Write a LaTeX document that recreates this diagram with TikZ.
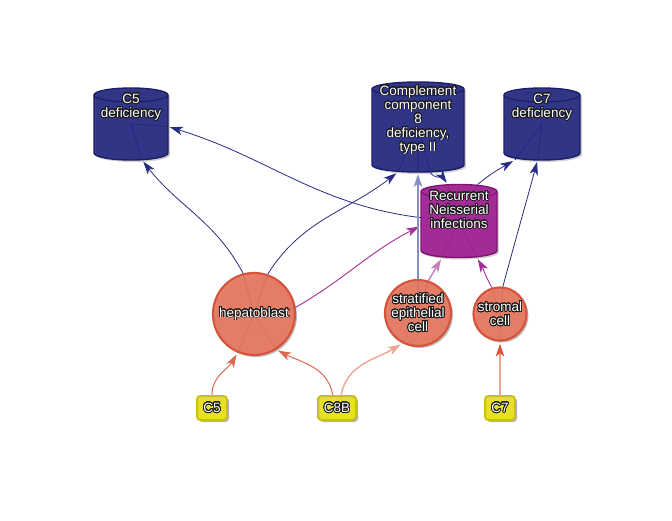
\documentclass[tikz,border=0pt]{standalone}
\usepackage{fontspec}
\setmainfont{Liberation Sans}
\usepackage{contour}
\contourlength{0.85pt}
\contournumber{24}
\usetikzlibrary{arrows.meta,shadows}

\definecolor{navyF}{RGB}{36,40,128}
\definecolor{navyD}{RGB}{26,29,104}
\definecolor{magF}{RGB}{160,30,145}
\definecolor{magD}{RGB}{125,20,112}
\definecolor{circF}{RGB}{232,118,95}
\definecolor{circD}{RGB}{212,85,60}
\definecolor{yelF}{RGB}{230,224,40}
\definecolor{yelD}{RGB}{200,192,24}
\definecolor{eNavy}{RGB}{40,44,130}
\definecolor{eMag}{RGB}{165,45,150}
\definecolor{eLtMag}{RGB}{198,125,192}
\definecolor{eOrange}{RGB}{222,104,78}
\definecolor{eSalmon}{RGB}{238,165,146}
\definecolor{eLav}{RGB}{136,141,196}
\definecolor{outl}{RGB}{25,25,25}

\pgfdeclarelayer{under}
\pgfsetlayers{under,main}

\newcommand\ol[1]{\contour{outl}{#1}}

% body of a cylinder drawn over the rectangle node #1, width #2, offset (#3,#4)
\newcommand\cylpath[4]{([shift={(#3,#4-7)}]#1.north west) -- ([shift={(#3,#4+7)}]#1.south west)
  arc[start angle=180,end angle=360,x radius=#2/2,y radius=7]
  -- ([shift={(#3,#4-7)}]#1.north east)
  arc[start angle=0,end angle=180,x radius=#2/2,y radius=7] -- cycle}

% cylinder node: name, x, y, width, height, colour prefix
\newcommand\cyl[6]{%
  \node[minimum width=#4, minimum height=#5, inner sep=0, outer sep=0] (#1) at (#2,#3) {};
  \path[fill=black, opacity=0.18] \cylpath{#1}{#4}{2}{-2};
  \path[fill=#6F, fill opacity=0.92, draw=#6D, line width=1.4pt] \cylpath{#1}{#4}{0}{0};
  \draw[#6D, line width=1.1pt] ([yshift=-7]#1.north west)
    arc[start angle=180,end angle=360,x radius=#4/2,y radius=7];
}

% connector: from, to, out anchor, out angle, in anchor, in angle, style
\newcommand\link[7]{%
  \begin{pgfonlayer}{under}
    \draw[#7] (#1.center) -- (#1.#3) (#2.center) -- (#2.#5);
  \end{pgfonlayer}
  \draw[#7, tip] (#1.#3) to[out=#4, in=#6] (#2.#5);
}

\begin{document}
\begin{tikzpicture}[x=1pt, y=1pt,
  font=\fontsize{13.5}{14}\selectfont,
  lbl/.style={text=white, align=center, inner sep=0},
  tip/.style={-{Stealth[length=13pt,width=8.5pt,inset=3.5pt]}, shorten >=2pt},
  navyedge/.style={eNavy, line width=0.8pt},
  magedge/.style={eMag, line width=0.9pt},
  ltmagedge/.style={eLtMag, line width=1.4pt},
  lavedge/.style={eLav, line width=1.8pt},
  orangeedge/.style={eOrange, line width=1pt},
  salmonedge/.style={eSalmon, line width=1.4pt},
  cell/.style={circle, fill=circF, draw=circD, line width=2.2pt, fill opacity=0.9,
    text opacity=1, inner sep=0, lbl,
    drop shadow={shadow xshift=2pt, shadow yshift=-2pt, opacity=0.25, fill=black}},
  gene/.style={rectangle, rounded corners=3.5pt, fill=yelF, draw=yelD, line width=2pt,
    minimum height=24, inner sep=0, lbl,
    drop shadow={shadow xshift=2pt, shadow yshift=-2pt, opacity=0.3, fill=black}}
]
\useasboundingbox (0,0) rectangle (672,520);

% disease cylinders
\cyl{c5def}{131}{396}{74}{72}{navy}
\cyl{c8def}{418}{393}{92}{90}{navy}
\cyl{c7def}{542}{396}{76}{72}{navy}
\cyl{rni}{459}{299}{76}{73}{mag}

\node[lbl] (t5) at (131,412.5) {\ol{C5}\\\ol{deficiency}};
\node[lbl] (t8) at (418,400) {\ol{Complement}\\\ol{component}\\\ol{8}\\\ol{deficiency,}\\\ol{type II}};
\node[lbl] (t7) at (542,412.5) {\ol{C7}\\\ol{deficiency}};
\node[lbl] (tr) at (459,310) {\ol{Recurrent}\\\ol{Neisserial}\\\ol{infections}};

% cell types
\node[cell, minimum size=82] (hep) at (254,206) {\ol{hepatoblast}};
\node[cell, minimum size=64] (sec) at (418,207) {\ol{stratified}\\\ol{epithelial}\\\ol{cell}};
\node[cell, minimum size=53] (stc) at (500,206) {\ol{stromal}\\\ol{cell}};

% genes
\node[gene, minimum width=30] (c5) at (212,112) {\ol{C5}};
\node[gene, minimum width=38] (c8b) at (337,112) {\ol{C8B}};
\node[gene, minimum width=30] (c7) at (500,112) {\ol{C7}};

% connectors
\link{hep}{c5def}{105}{118}{287}{308}{navyedge}
\link{hep}{c8def}{71}{58}{246}{218}{navyedge}
\link{hep}{rni}{9}{30}{187}{207}{magedge}
\link{rni}{c5def}{175}{173}{356}{343}{navyedge}
\link{rni}{c7def}{63}{40}{233}{210}{navyedge}
\link{c8def}{rni}{285}{300}{107}{125}{navyedge}
\link{sec}{c8def}{90}{90}{270}{270}{lavedge}
\link{sec}{rni}{72}{60}{245}{240}{ltmagedge}
\link{stc}{rni}{107}{120}{296}{300}{magedge}
\link{stc}{c7def}{84}{75}{263}{255}{navyedge}
\link{c5}{hep}{90}{90}{247}{240}{orangeedge}
\link{c8b}{hep}{108}{100}{302}{333}{orangeedge}
\link{c8b}{sec}{72}{80}{243}{211}{salmonedge}
\begin{pgfonlayer}{under}
  \draw[salmonedge] (c7.center) -- (c7.north) (stc.center) -- (stc.south);
\end{pgfonlayer}
\draw[salmonedge, shorten >=2pt,
  -{Stealth[length=13pt,width=8.5pt,inset=3.5pt,color=circD]}] (c7.north) -- (stc.south);
\end{tikzpicture}
\end{document}
